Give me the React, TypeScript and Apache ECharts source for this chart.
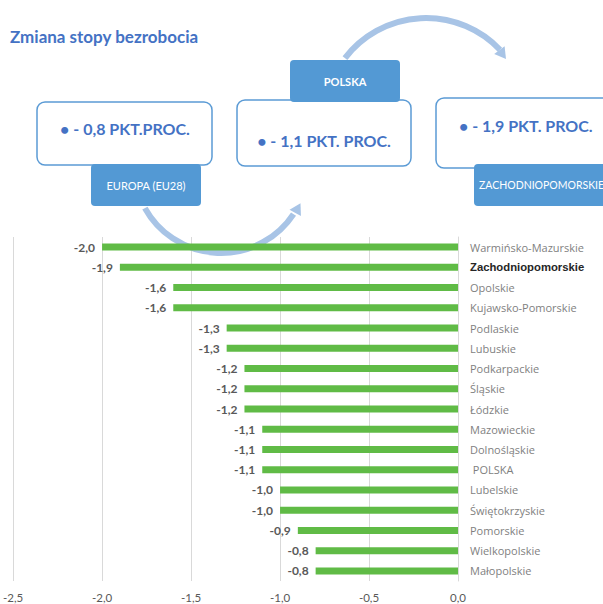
import React, { useEffect, useRef } from "react";
import * as echarts from "echarts";

const categories = [
  "Warmińsko-Mazurskie",
  "Zachodniopomorskie",
  "Opolskie",
  "Kujawsko-Pomorskie",
  "Podlaskie",
  "Lubuskie",
  "Podkarpackie",
  "Śląskie",
  "Łódzkie",
  "Mazowieckie",
  "Dolnośląskie",
  " POLSKA",
  "Lubelskie",
  "Świętokrzyskie",
  "Pomorskie",
  "Wielkopolskie",
  "Małopolskie",
];
const values = [-2.0, -1.9, -1.6, -1.6, -1.3, -1.3, -1.2, -1.2, -1.2, -1.1, -1.1, -1.1, -1.0, -1.0, -0.9, -0.8, -0.8];
const highlighted = "Zachodniopomorskie";
const title = "Zmiana stopy bezrobocia";
const boxTexts = ["• - 0,8 PKT.PROC.", "• - 1,1 PKT. PROC.", "• - 1,9 PKT. PROC."];
const tagTexts = ["EUROPA (EU28)", "POLSKA", "ZACHODNIOPOMORSKIE"];

const BLUE_TEXT = "#4472c4";
const BOX_STROKE = "#5b9bd5";
const TAG_FILL = "#5399d4";
const ARC = "#a8c4e6";

function arrowHead(tx: number, ty: number, dx: number, dy: number, len: number, half: number) {
  const bx = tx - dx * len;
  const by = ty - dy * len;
  const nx = -dy;
  const ny = dx;
  return [
    [tx, ty],
    [bx + nx * half, by + ny * half],
    [bx - nx * half, by - ny * half],
  ];
}

export default function App() {
  const ref = useRef<HTMLDivElement>(null);
  useEffect(() => {
    if (!ref.current) return;
    const chart = echarts.init(ref.current, null, { renderer: "svg" });

    const a1 = { cx: 221, cy: 166, r: 87 };
    const a1Tip = 0.52;
    const t1x = a1.cx + Math.cos(a1Tip) * a1.r + 4;
    const t1y = a1.cy + Math.sin(a1Tip) * a1.r - 6;
    const d1 = [Math.sin(0.5), -Math.cos(0.5)];
    const a2 = { cx: 426, cy: 120, r: 102 };
    const d2 = [0.6, 0.8];

    const option: any = {
      animation: false,
      backgroundColor: "#ffffff",
      grid: { left: 8, right: 145, top: 237, bottom: 23, containLabel: false },
      xAxis: {
        type: "value",
        min: -2.5,
        max: 0,
        interval: 0.5,
        axisLine: { show: false },
        axisTick: { show: false },
        axisLabel: {
          color: "#595959",
          fontFamily: "Lato",
          fontSize: 11.5,
          margin: 10,
          formatter: (v: number) => v.toFixed(1).replace(".", ","),
        },
        splitLine: { show: true, lineStyle: { color: "#d9d9d9", width: 1 } },
      },
      yAxis: {
        type: "category",
        data: categories,
        inverse: true,
        position: "right",
        axisLine: { show: true, lineStyle: { color: "#d9d9d9", width: 1 } },
        axisTick: { show: false },
        axisLabel: {
          margin: 12,
          color: "#7f7f7f",
          fontFamily: "Open Sans",
          fontSize: 11,
          formatter: (v: string) => (v === highlighted ? `{b|${v}}` : v),
          rich: {
            b: { fontFamily: "Liberation Sans", fontWeight: "bold", fontSize: 11.3, color: "#262626" },
          },
        },
      },
      series: [
        {
          type: "bar",
          data: values,
          barWidth: 7,
          itemStyle: { color: "#60bb46" },
          z: 3,
          label: {
            show: true,
            position: "left",
            distance: 7,
            color: "#595959",
            fontFamily: "Lato",
            fontWeight: "bold",
            fontSize: 12,
            formatter: (p: any) => Number(p.value).toFixed(1).replace(".", ","),
          },
        },
      ],
      graphic: [
        {
          type: "text",
          left: 10,
          top: 28,
          z: 10,
          style: { text: title, fill: BLUE_TEXT, font: "bold 17px Lato" },
        },
        {
          type: "arc",
          z: 1,
          shape: { cx: a1.cx, cy: a1.cy, r: a1.r, startAngle: 0.585, endAngle: 2.636, clockwise: true },
          style: { stroke: ARC, lineWidth: 6, fill: "none" },
        },
        {
          type: "polygon",
          z: 1,
          shape: { points: arrowHead(t1x, t1y, d1[0], d1[1], 11, 6.5) },
          style: { fill: ARC },
        },
        {
          type: "arc",
          z: 10,
          shape: { cx: a2.cx, cy: a2.cy, r: a2.r, startAngle: -2.489, endAngle: -0.76, clockwise: true },
          style: { stroke: ARC, lineWidth: 6, fill: "none" },
        },
        {
          type: "polygon",
          z: 10,
          shape: { points: arrowHead(506, 59, d2[0], d2[1], 11, 6.5) },
          style: { fill: ARC },
        },
        {
          type: "rect",
          z: 11,
          shape: { x: 37, y: 102, width: 175, height: 63, r: 8 },
          style: { fill: "#ffffff", stroke: BOX_STROKE, lineWidth: 1.5 },
        },
        {
          type: "rect",
          z: 11,
          shape: { x: 237, y: 100, width: 174, height: 66, r: 8 },
          style: { fill: "#ffffff", stroke: BOX_STROKE, lineWidth: 1.5 },
        },
        {
          type: "rect",
          z: 11,
          shape: { x: 436, y: 98, width: 180, height: 70, r: 8 },
          style: { fill: "#ffffff", stroke: BOX_STROKE, lineWidth: 1.5 },
        },
        {
          type: "text",
          z: 12,
          x: 125,
          y: 128,
          style: { text: boxTexts[0], fill: BLUE_TEXT, font: "bold 16px Lato", align: "center", verticalAlign: "middle" },
        },
        {
          type: "text",
          z: 12,
          x: 324,
          y: 140,
          style: { text: boxTexts[1], fill: BLUE_TEXT, font: "bold 16px Lato", align: "center", verticalAlign: "middle" },
        },
        {
          type: "text",
          z: 12,
          x: 459,
          y: 125,
          style: { text: boxTexts[2], fill: BLUE_TEXT, font: "bold 16px Lato", align: "left", verticalAlign: "middle" },
        },
        {
          type: "rect",
          z: 13,
          shape: { x: 91, y: 164, width: 110, height: 42, r: 4 },
          style: { fill: TAG_FILL },
        },
        {
          type: "rect",
          z: 13,
          shape: { x: 290, y: 60, width: 110, height: 42, r: 4 },
          style: { fill: TAG_FILL },
        },
        {
          type: "rect",
          z: 13,
          shape: { x: 474, y: 164, width: 150, height: 42, r: 4 },
          style: { fill: TAG_FILL },
        },
        {
          type: "text",
          z: 14,
          x: 146,
          y: 185,
          style: { text: tagTexts[0], fill: "#ffffff", font: "11px Lato", align: "center", verticalAlign: "middle" },
        },
        {
          type: "text",
          z: 14,
          x: 345,
          y: 81,
          style: { text: tagTexts[1], fill: "#ffffff", font: "bold 11px Lato", align: "center", verticalAlign: "middle" },
        },
        {
          type: "text",
          z: 14,
          x: 479,
          y: 185,
          style: { text: tagTexts[2], fill: "#ffffff", font: "10.5px Lato", align: "left", verticalAlign: "middle" },
        },
      ],
    };
    chart.setOption(option);
    return () => chart.dispose();
  }, []);
  return (
    <div
      ref={ref}
      style={{ position: "fixed", left: 0, top: 0, width: 603, height: 604 }}
    />
  );
}
